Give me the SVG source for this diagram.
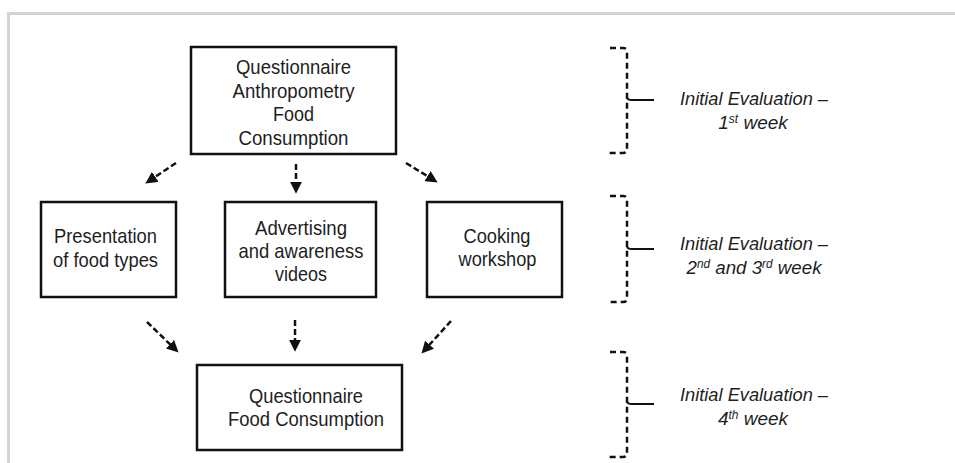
<svg xmlns="http://www.w3.org/2000/svg" width="955" height="463" viewBox="0 0 955 463">
<defs>
<style>
.frame{stroke:#d4d4d4;stroke-width:3;fill:none}
.box{fill:#fff;stroke:#111;stroke-width:2.5}
.t{font-family:"Liberation Sans",Arial,sans-serif;font-size:21px;fill:#1e1e1e;text-anchor:middle}
.it{font-family:"Liberation Sans",Arial,sans-serif;font-size:19px;font-style:italic;fill:#1e1e1e;text-anchor:middle}
.sup{font-size:12px}
.arrow{stroke:#111;stroke-width:2.5;stroke-dasharray:6,3;fill:none}
.br{stroke:#111;stroke-width:2.5;stroke-dasharray:6,4;fill:none}
.tick{stroke:#111;stroke-width:2;fill:none}
</style>
<marker id="ah" viewBox="0 0 10 10" refX="6" refY="5" markerWidth="12" markerHeight="12" markerUnits="userSpaceOnUse" orient="auto">
<path d="M0,0 L10,5 L0,10 z" fill="#111"/>
</marker>
</defs>
<rect width="955" height="463" fill="#fff"/>
<path class="frame" d="M8.5,463 V13.5 H955"/>

<g id="n1">
<rect class="box" x="191" y="47" width="205" height="107"/>
<text class="t" x="293.5" y="73.5" textLength="115" lengthAdjust="spacingAndGlyphs">Questionnaire</text>
<text class="t" x="293.5" y="97.5" textLength="122" lengthAdjust="spacingAndGlyphs">Anthropometry</text>
<text class="t" x="293.5" y="121" textLength="41" lengthAdjust="spacingAndGlyphs">Food</text>
<text class="t" x="293.5" y="145" textLength="110" lengthAdjust="spacingAndGlyphs">Consumption</text>
</g>

<g id="n2">
<rect class="box" x="41" y="202" width="135" height="95"/>
<text class="t" x="105.5" y="242.5" textLength="103" lengthAdjust="spacingAndGlyphs">Presentation</text>
<text class="t" x="105.5" y="266.5" textLength="105" lengthAdjust="spacingAndGlyphs">of food types</text>
</g>

<g id="n3">
<rect class="box" x="225" y="202" width="151" height="95"/>
<text class="t" x="301" y="234.5" textLength="92" lengthAdjust="spacingAndGlyphs">Advertising</text>
<text class="t" x="301" y="257.5" textLength="125" lengthAdjust="spacingAndGlyphs">and awareness</text>
<text class="t" x="301" y="280.5" textLength="52" lengthAdjust="spacingAndGlyphs">videos</text>
</g>

<g id="n4">
<rect class="box" x="427" y="202" width="135" height="95"/>
<text class="t" x="497" y="242.5" textLength="67" lengthAdjust="spacingAndGlyphs">Cooking</text>
<text class="t" x="497.5" y="265.5" textLength="78" lengthAdjust="spacingAndGlyphs">workshop</text>
</g>

<g id="n5">
<rect class="box" x="197" y="365" width="205" height="85"/>
<text class="t" x="306" y="402.5" textLength="114" lengthAdjust="spacingAndGlyphs">Questionnaire</text>
<text class="t" x="306" y="425.5" textLength="156" lengthAdjust="spacingAndGlyphs">Food Consumption</text>
</g>

<g id="connectors">
<line class="arrow" x1="176" y1="163" x2="149.3" y2="180.8" marker-end="url(#ah)"/>
<line class="arrow" x1="296" y1="164" x2="296" y2="189" marker-end="url(#ah)"/>
<line class="arrow" x1="406" y1="163" x2="433.6" y2="179.9" marker-end="url(#ah)"/>
<line class="arrow" x1="147" y1="322" x2="175.1" y2="349.2" marker-end="url(#ah)"/>
<line class="arrow" x1="295" y1="320" x2="295" y2="347" marker-end="url(#ah)"/>
<line class="arrow" x1="451" y1="321" x2="424.7" y2="350" marker-end="url(#ah)"/>
</g>

<g id="bracket1">
<path class="br" d="M610,48 H623 Q627,48 627,52 V149 Q627,153 623,153 H609"/>
<path class="tick" d="M627,97 Q627,100 632,100 H654"/>
<text class="it" x="754" y="104.5" textLength="148" lengthAdjust="spacingAndGlyphs">Initial Evaluation –</text>
<text class="it" x="753" y="129">1<tspan class="sup" dy="-6">st</tspan><tspan dy="6"> week</tspan></text>
</g>

<g id="bracket2">
<path class="br" d="M610,196 H623 Q627,196 627,200 V298 Q627,302 623,302 H609"/>
<path class="tick" d="M627,246 Q627,249 632,249 H654"/>
<text class="it" x="754" y="249.5" textLength="148" lengthAdjust="spacingAndGlyphs">Initial Evaluation –</text>
<text class="it" x="754" y="273.5" textLength="135" lengthAdjust="spacingAndGlyphs">2<tspan class="sup" dy="-6">nd</tspan><tspan dy="6"> and 3</tspan><tspan class="sup" dy="-6">rd</tspan><tspan dy="6"> week</tspan></text>
</g>

<g id="bracket3">
<path class="br" d="M610,352 H623 Q627,352 627,356 V453 Q627,457 623,457 H609"/>
<path class="tick" d="M627,401 Q627,404 632,404 H654"/>
<text class="it" x="754" y="400.5" textLength="148" lengthAdjust="spacingAndGlyphs">Initial Evaluation –</text>
<text class="it" x="753" y="424.5">4<tspan class="sup" dy="-6">th</tspan><tspan dy="6"> week</tspan></text>
</g>
</svg>
